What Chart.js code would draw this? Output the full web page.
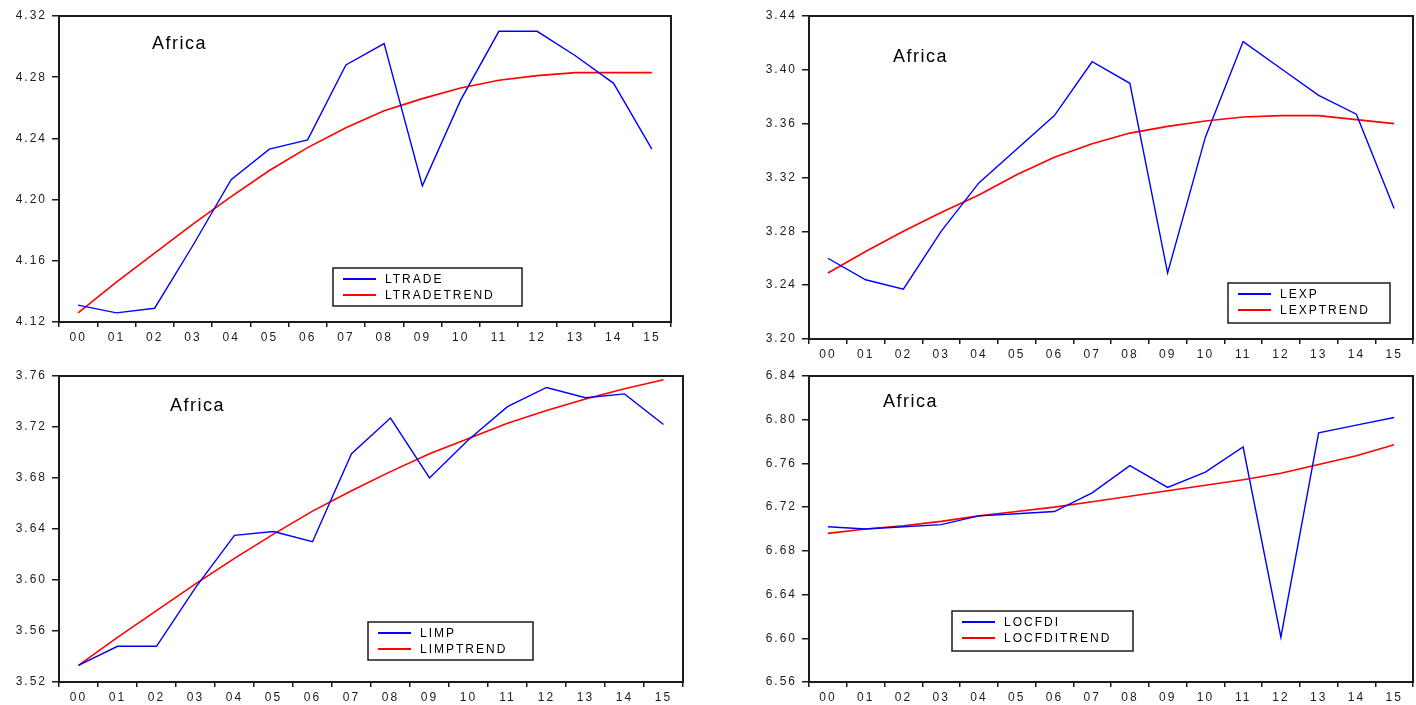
<!DOCTYPE html>
<html lang="en">
<head>
  <meta charset="UTF-8" />
  <title>Africa trends</title>
  <script src="https://cdn.jsdelivr.net/npm/chart.js"></script>
  <style>
    body { margin: 0; background: #fff; }
    .panel { position: absolute; }
  </style>
</head>
<body>
  <canvas id="c1" class="panel" width="700" height="355" style="left:0;top:0"></canvas>
  <canvas id="c2" class="panel" width="708" height="372" style="left:708px;top:0"></canvas>
  <canvas id="c3" class="panel" width="708" height="350" style="left:0;top:355px"></canvas>
  <canvas id="c4" class="panel" width="708" height="350" style="left:708px;top:355px"></canvas>

  <script>
    // years 2000-2015
    const years = ['00','01','02','03','04','05','06','07','08','09','10','11','12','13','14','15'];
    const region = 'Africa';

    const ltrade      = [4.131, 4.126, 4.129, 4.170, 4.213, 4.233, 4.239, 4.288, 4.302, 4.209, 4.265, 4.310, 4.310, 4.294, 4.276, 4.233];
    const ltradeTrend = [4.126, 4.146, 4.165, 4.184, 4.202, 4.219, 4.234, 4.247, 4.258, 4.266, 4.273, 4.278, 4.281, 4.283, 4.283, 4.283];

    const lexp      = [3.260, 3.244, 3.237, 3.280, 3.316, 3.341, 3.366, 3.406, 3.390, 3.249, 3.350, 3.421, 3.401, 3.381, 3.367, 3.297];
    const lexpTrend = [3.249, 3.265, 3.280, 3.294, 3.307, 3.322, 3.335, 3.345, 3.353, 3.358, 3.362, 3.365, 3.366, 3.366, 3.363, 3.360];

    const limp      = [3.533, 3.548, 3.548, 3.594, 3.635, 3.638, 3.630, 3.699, 3.727, 3.680, 3.710, 3.736, 3.751, 3.743, 3.746, 3.722];
    const limpTrend = [3.533, 3.555, 3.576, 3.597, 3.617, 3.636, 3.654, 3.670, 3.685, 3.699, 3.711, 3.723, 3.733, 3.742, 3.750, 3.757];

    const locfdi      = [6.702, 6.700, 6.702, 6.704, 6.712, 6.714, 6.716, 6.733, 6.758, 6.738, 6.752, 6.775, 6.601, 6.788, 6.795, 6.802];
    const locfdiTrend = [6.696, 6.700, 6.703, 6.707, 6.712, 6.716, 6.720, 6.725, 6.730, 6.735, 6.740, 6.745, 6.751, 6.759, 6.767, 6.777];

    const FONT = '"Liberation Sans", Arial, sans-serif';
    const INK = '#1c1c1c';

    // frame, "Africa" label and boxed legend, EViews style
    const panelPlugin = {
      id: 'panel',
      beforeLayout(chart) { chart.ctx.letterSpacing = '2px'; },
      beforeDraw(chart) { chart.ctx.letterSpacing = '2px'; },
      afterDatasetsDraw(chart, args, opts) {
        const ctx = chart.ctx;
        const a = chart.chartArea;
        ctx.save();
        ctx.strokeStyle = INK;
        ctx.lineWidth = 2;
        ctx.strokeRect(a.left, a.top, a.right - a.left, a.bottom - a.top);

        ctx.letterSpacing = '1.5px';
        ctx.fillStyle = '#000';
        ctx.font = '18px ' + FONT;
        ctx.textBaseline = 'middle';
        ctx.fillText(region, a.left + opts.title[0], a.top + opts.title[1]);

        const [lx, ly, lw, lh] = opts.legend;
        ctx.fillStyle = '#fff';
        ctx.fillRect(lx, ly, lw, lh);
        ctx.lineWidth = 1.5;
        ctx.strokeRect(lx, ly, lw, lh);
        ctx.letterSpacing = '2px';
        ctx.font = '12px ' + FONT;
        chart.data.datasets.forEach((ds, i) => {
          const y = ly + 11 + i * 16;
          ctx.strokeStyle = ds.borderColor;
          ctx.lineWidth = 2;
          ctx.beginPath();
          ctx.moveTo(lx + 10, y);
          ctx.lineTo(lx + 43, y);
          ctx.stroke();
          ctx.fillStyle = '#000';
          ctx.fillText(ds.label, lx + 52, y + 1);
        });
        ctx.restore();
      }
    };

    function makeChart(id, names, series, trend, yMin, yMax, box, title, legend) {
      return new Chart(document.getElementById(id), {
        type: 'line',
        data: {
          labels: years,
          datasets: [
            { label: names[0], data: series, borderColor: '#0000ff', borderWidth: 1.4 },
            { label: names[1], data: trend, borderColor: '#ff0000', borderWidth: 1.6 }
          ]
        },
        options: {
          responsive: false,
          animation: false,
          elements: { point: { radius: 0 }, line: { tension: 0 } },
          layout: { padding: { top: box.top, right: box.right, left: 0, bottom: 0 } },
          plugins: {
            legend: { display: false },
            tooltip: { enabled: false },
            panel: { title: title, legend: legend }
          },
          scales: {
            x: {
              offset: true,
              border: { display: false },
              grid: { offset: true, drawOnChartArea: false, tickLength: 5, color: INK, lineWidth: 1.5 },
              ticks: { color: INK, padding: 3, maxRotation: 0, autoSkip: false, font: { family: FONT, size: 12 } },
              afterFit: (s) => { s.height = box.xh; }
            },
            y: {
              min: yMin,
              max: yMax,
              border: { display: false },
              grid: { drawOnChartArea: false, tickLength: 7, color: INK, lineWidth: 1.5 },
              ticks: {
                stepSize: 0.04,
                color: INK,
                padding: 5,
                font: { family: FONT, size: 12 },
                callback: (v) => v.toFixed(2)
              },
              afterFit: (s) => { s.width = box.yw; }
            }
          }
        },
        plugins: [panelPlugin]
      });
    }

    makeChart('c1', ['LTRADE', 'LTRADETREND'], ltrade, ltradeTrend, 4.12, 4.32,
      { top: 16, right: 29, yw: 59, xh: 33 }, [93, 28], [333, 268, 189, 38]);
    makeChart('c2', ['LEXP', 'LEXPTREND'], lexp, lexpTrend, 3.20, 3.44,
      { top: 16, right: 3, yw: 101, xh: 33 }, [84, 41], [520, 283, 162, 40]);
    makeChart('c3', ['LIMP', 'LIMPTREND'], limp, limpTrend, 3.52, 3.76,
      { top: 21, right: 25, yw: 59, xh: 23 }, [111, 30], [368, 267, 165, 38]);
    makeChart('c4', ['LOCFDI', 'LOCFDITREND'], locfdi, locfdiTrend, 6.56, 6.84,
      { top: 21, right: 3, yw: 101, xh: 23 }, [74, 26], [244, 256, 181, 40]);
  </script>
</body>
</html>
